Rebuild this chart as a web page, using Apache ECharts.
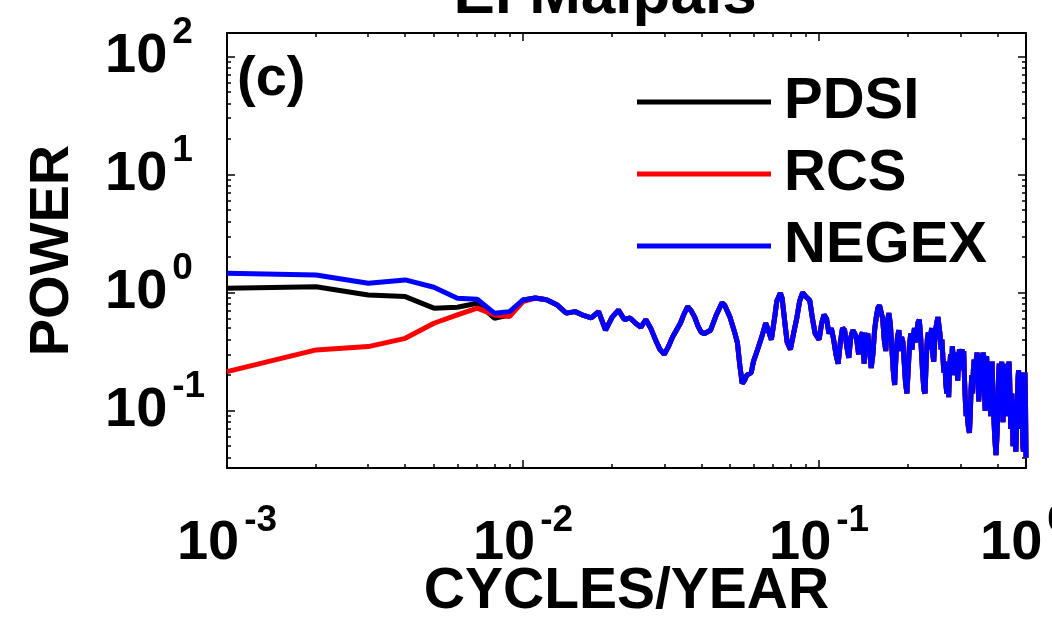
<!DOCTYPE html>
<html>
<head>
<meta charset="utf-8">
<script src="https://cdn.jsdelivr.net/npm/echarts@6/dist/echarts.min.js"></script>
<style>
  html, body { margin: 0; padding: 0; background: #fff; }
  #main { width: 1052px; height: 628px; }
</style>
</head>
<body>
<div id="main"></div>
<script>
// low frequencies: the three series differ here
const freqLow = [0.001, 0.002, 0.003, 0.004, 0.005, 0.006, 0.007, 0.008, 0.009, 0.010];
const pdsiLow = [1.09, 1.12, 0.956, 0.925, 0.738, 0.752, 0.813, 0.607, 0.647, 0.867];
const rcsLow = [0.214, 0.327, 0.349, 0.41, 0.55, 0.647, 0.738, 0.647, 0.626, 0.839];
const negexLow = [1.46, 1.41, 1.20, 1.28, 1.11, 0.897, 0.88, 0.669, 0.69, 0.867];

// above ~0.01 cycles/year the three spectra sit on top of each other
const freqMid = [
  0.011, 0.012, 0.013, 0.014, 0.015, 0.016, 0.017, 0.018, 0.019, 0.020,
  0.021, 0.022, 0.023, 0.024, 0.025, 0.026, 0.027, 0.028, 0.029, 0.030,
  0.031, 0.032, 0.034, 0.035, 0.036, 0.037, 0.038, 0.039, 0.040, 0.041,
  0.043, 0.045, 0.047, 0.048, 0.050, 0.052, 0.053, 0.054, 0.055, 0.056,
  0.057, 0.059, 0.060, 0.062, 0.064, 0.066, 0.067, 0.069, 0.071, 0.072,
  0.074, 0.075, 0.077, 0.078, 0.080, 0.082, 0.084, 0.086, 0.088, 0.090,
  0.093, 0.095, 0.097
];
const powerMid = [
  0.90, 0.87, 0.79, 0.67, 0.69, 0.64, 0.61, 0.69, 0.48, 0.62,
  0.71, 0.59, 0.61, 0.55, 0.51, 0.59, 0.50, 0.40, 0.33, 0.30,
  0.35, 0.42, 0.55, 0.66, 0.76, 0.70, 0.62, 0.52, 0.46, 0.45,
  0.48, 0.65, 0.82, 0.78, 0.62, 0.45, 0.375, 0.24, 0.17, 0.18,
  0.20, 0.21, 0.26, 0.33, 0.42, 0.55, 0.50, 0.40, 0.65, 0.85,
  0.99, 0.90, 0.50, 0.38, 0.33, 0.45, 0.60, 0.85, 1.00, 0.93,
  0.86, 0.60, 0.45
];

// the noisy band from 0.1 up to the Nyquist frequency
const freqBand = [
  0.100, 0.102, 0.104, 0.106, 0.108, 0.110, 0.112, 0.114, 0.116, 0.118,
  0.120, 0.122, 0.124, 0.126, 0.128, 0.130, 0.132, 0.134, 0.136, 0.138,
  0.140, 0.142, 0.144, 0.146, 0.148, 0.150, 0.152, 0.154, 0.156, 0.158,
  0.160, 0.162, 0.164, 0.166, 0.168, 0.170, 0.172, 0.174, 0.176, 0.178,
  0.180, 0.182, 0.184, 0.186, 0.188, 0.190, 0.192, 0.194, 0.196, 0.198,
  0.200, 0.202, 0.204, 0.206, 0.208, 0.210, 0.212, 0.214, 0.216, 0.218,
  0.220, 0.222, 0.224, 0.226, 0.228, 0.230, 0.232, 0.234, 0.236, 0.238,
  0.240, 0.242, 0.244, 0.246, 0.248, 0.250, 0.252, 0.254, 0.256, 0.258,
  0.260, 0.262, 0.264, 0.266, 0.268, 0.270, 0.272, 0.274, 0.276, 0.278,
  0.280, 0.282, 0.284, 0.286, 0.288, 0.290, 0.292, 0.294, 0.296, 0.298,
  0.300, 0.302, 0.304, 0.306, 0.308, 0.310, 0.312, 0.314, 0.316, 0.318,
  0.320, 0.322, 0.324, 0.326, 0.328, 0.330, 0.332, 0.334, 0.336, 0.338,
  0.340, 0.342, 0.344, 0.346, 0.348, 0.350, 0.352, 0.354, 0.356, 0.358,
  0.360, 0.362, 0.364, 0.366, 0.368, 0.370, 0.372, 0.374, 0.376, 0.378,
  0.380, 0.382, 0.384, 0.386, 0.388, 0.390, 0.392, 0.394, 0.396, 0.398,
  0.400, 0.402, 0.404, 0.406, 0.408, 0.410, 0.412, 0.414, 0.416, 0.418,
  0.420, 0.422, 0.424, 0.426, 0.428, 0.430, 0.432, 0.434, 0.436, 0.438,
  0.440, 0.442, 0.444, 0.446, 0.448, 0.450, 0.452, 0.454, 0.456, 0.458,
  0.460, 0.462, 0.464, 0.466, 0.468, 0.470, 0.472, 0.474, 0.476, 0.478,
  0.480, 0.482, 0.484, 0.486, 0.488, 0.490, 0.492, 0.494, 0.496, 0.498,
  0.500
];
const powerBand = [
  0.40, 0.55, 0.65, 0.60, 0.45, 0.50, 0.40, 0.30, 0.25, 0.38,
  0.50, 0.48, 0.35, 0.28, 0.42, 0.48, 0.45, 0.40, 0.30, 0.42,
  0.46, 0.25, 0.42, 0.45, 0.33, 0.23, 0.30, 0.48, 0.62, 0.74,
  0.78, 0.76, 0.60, 0.40, 0.32, 0.55, 0.67, 0.55, 0.35, 0.22,
  0.165, 0.30, 0.42, 0.48, 0.32, 0.42, 0.38, 0.25, 0.17, 0.14,
  0.22, 0.36, 0.45, 0.33, 0.42, 0.50, 0.38, 0.48, 0.56, 0.59,
  0.45, 0.30, 0.20, 0.15, 0.14, 0.26, 0.40, 0.46, 0.33, 0.42,
  0.50, 0.30, 0.26, 0.40, 0.50, 0.56, 0.62, 0.60, 0.45, 0.33,
  0.40, 0.28, 0.21, 0.26, 0.17, 0.14, 0.20, 0.13, 0.22, 0.30,
  0.24, 0.35, 0.28, 0.20, 0.27, 0.31, 0.24, 0.18, 0.28, 0.33,
  0.25, 0.31, 0.33, 0.22, 0.32, 0.18, 0.12, 0.09, 0.11, 0.08,
  0.07, 0.065, 0.09, 0.15, 0.20, 0.14, 0.22, 0.27, 0.25, 0.17,
  0.28, 0.31, 0.22, 0.12, 0.15, 0.28, 0.30, 0.20, 0.26, 0.31,
  0.29, 0.14, 0.10, 0.19, 0.29, 0.22, 0.13, 0.21, 0.24, 0.11,
  0.09, 0.18, 0.26, 0.16, 0.11, 0.08, 0.06, 0.05, 0.042, 0.041,
  0.07, 0.12, 0.20, 0.25, 0.16, 0.12, 0.22, 0.26, 0.14, 0.08,
  0.13, 0.21, 0.16, 0.11, 0.19, 0.25, 0.15, 0.09, 0.18, 0.26,
  0.20, 0.12, 0.07, 0.10, 0.14, 0.08, 0.05, 0.08, 0.12, 0.07,
  0.055, 0.045, 0.044, 0.09, 0.14, 0.19, 0.22, 0.12, 0.07, 0.13,
  0.19, 0.21, 0.15, 0.08, 0.05, 0.045, 0.07, 0.10, 0.21, 0.12,
  0.04
];

const xMajorTicks = [0.001, 0.01, 0.1];
const xMinorTicks = [0.002, 0.003, 0.004, 0.005, 0.006, 0.007, 0.008, 0.009,
  0.02, 0.03, 0.04, 0.05, 0.06, 0.07, 0.08, 0.09, 0.2, 0.3, 0.4];
const yMajorTicks = [0.1, 1, 10, 100];
const yMinorTicks = [0.04, 0.05, 0.06, 0.07, 0.08, 0.09,
  0.2, 0.3, 0.4, 0.5, 0.6, 0.7, 0.8, 0.9,
  2, 3, 4, 5, 6, 7, 8, 9, 20, 30, 40, 50, 60, 70, 80, 90];

const FONT = 'Liberation Sans';

function pairs(fs, ps) {
  return fs.map((f, i) => [f, ps[i]]);
}
const shared = pairs(freqMid, powerMid).concat(pairs(freqBand, powerBand));
const pdsiData = pairs(freqLow, pdsiLow).concat(shared);
const rcsData = pairs(freqLow, rcsLow).concat(shared);
const negexData = pairs(freqLow, negexLow).concat(shared);

// "10" with a raised exponent, like the MATLAB log labels
const powLabel = {
  b: { fontSize: 56, fontWeight: 'bold', fontFamily: FONT, color: '#000', lineHeight: 84 },
  e: { fontSize: 37, fontWeight: 'bold', fontFamily: FONT, color: '#000', lineHeight: 37, verticalAlign: 'top', padding: [0, 0, 0, 5] }
};
function powFmt(v) {
  return '{b|10}{e|' + Math.round(Math.log10(v)) + '}';
}

const X_MIN = 0.001, X_MAX = 0.5;
const Y_MIN = 0.0327, Y_MAX = 158;

function xAxisOf(pos, ticks, len, withLine, withLabel) {
  return {
    type: 'log', logBase: 10, position: pos, min: X_MIN, max: X_MAX,
    axisLine: { show: withLine, lineStyle: { color: '#000', width: 2 } },
    axisTick: { show: true, inside: true, length: len, customValues: ticks, lineStyle: { color: '#000', width: 1.5 } },
    axisLabel: withLabel ? { show: true, margin: 34, customValues: ticks, formatter: powFmt, rich: powLabel } : { show: false },
    splitLine: { show: false },
    minorTick: { show: false }
  };
}
function yAxisOf(pos, ticks, len, withLine, withLabel) {
  return {
    type: 'log', logBase: 10, position: pos, min: Y_MIN, max: Y_MAX,
    axisLine: { show: withLine, lineStyle: { color: '#000', width: 2 } },
    axisTick: { show: true, inside: true, length: len, customValues: ticks, lineStyle: { color: '#000', width: 1.5 } },
    axisLabel: withLabel ? { show: true, margin: 122, align: 'left', customValues: ticks, formatter: powFmt, rich: powLabel } : { show: false },
    splitLine: { show: false },
    minorTick: { show: false }
  };
}

const xMain = xAxisOf('bottom', xMajorTicks, 8, true, true);
xMain.name = 'CYCLES/YEAR';
xMain.nameLocation = 'middle';
xMain.nameGap = 96;
xMain.nameMoveOverlap = false;
xMain.nameTextStyle = { fontSize: 57, fontWeight: 'bold', fontFamily: FONT, color: '#000' };

const yMain = yAxisOf('left', yMajorTicks, 8, true, true);
yMain.name = 'POWER';
yMain.nameLocation = 'middle';
yMain.nameGap = 146;
yMain.nameMoveOverlap = false;
yMain.nameTextStyle = { fontSize: 56, fontWeight: 'bold', fontFamily: FONT, color: '#000' };

var myChart = echarts.init(document.getElementById('main'), null, { renderer: 'canvas' });
var option = {
  animation: false,
  backgroundColor: '#fff',
  grid: { left: 227, right: 26, top: 33, bottom: 160, containLabel: false, outerBoundsMode: 'none' },
  xAxis: [
    xMain,
    xAxisOf('bottom', xMinorTicks, 4, false, false),
    xAxisOf('top', xMajorTicks, 8, true, false),
    xAxisOf('top', xMinorTicks, 4, false, false)
  ],
  yAxis: [
    yMain,
    yAxisOf('left', yMinorTicks, 4, false, false),
    yAxisOf('right', yMajorTicks, 8, true, false),
    yAxisOf('right', yMinorTicks, 4, false, false)
  ],
  legend: {
    orient: 'vertical',
    left: 632,
    top: 68,
    icon: 'rect',
    itemWidth: 134,
    itemHeight: 5,
    itemGap: 14,
    textStyle: { fontSize: 58, fontWeight: 'bold', fontFamily: FONT, color: '#000', padding: [0, 0, 0, 8] },
    data: ['PDSI', 'RCS', 'NEGEX']
  },
  graphic: [
    { type: 'text', style: { text: 'El Malpais', x: 605, y: -4, font: 'bold 62px "Liberation Sans"', fill: '#000', textAlign: 'center', textVerticalAlign: 'middle', align: 'center', verticalAlign: 'middle' } },
    { type: 'text', style: { text: '(c)', x: 237, y: 80, font: 'bold 56px "Liberation Sans"', fill: '#000', textAlign: 'left', textVerticalAlign: 'middle', align: 'left', verticalAlign: 'middle' } },
    { type: 'text', style: { text: '{b|10}{e|0}', x: 980, y: 502, rich: powLabel, textAlign: 'left', textVerticalAlign: 'top', align: 'left', verticalAlign: 'top' } }
  ],
  series: [{
    name: 'PDSI', type: 'line', xAxisIndex: 0, yAxisIndex: 0,
    showSymbol: false, symbol: 'none', color: '#000000',
    lineStyle: { width: 5, color: '#000000' },
    data: pdsiData
  }, {
    name: 'RCS', type: 'line', xAxisIndex: 0, yAxisIndex: 0,
    showSymbol: false, symbol: 'none', color: '#ff0000',
    lineStyle: { width: 5, color: '#ff0000' },
    data: rcsData
  }, {
    name: 'NEGEX', type: 'line', xAxisIndex: 0, yAxisIndex: 0,
    showSymbol: false, symbol: 'none', color: '#0000ff',
    lineStyle: { width: 5, color: '#0000ff' },
    data: negexData
  }]
};
myChart.setOption(option);
</script>
</body>
</html>
